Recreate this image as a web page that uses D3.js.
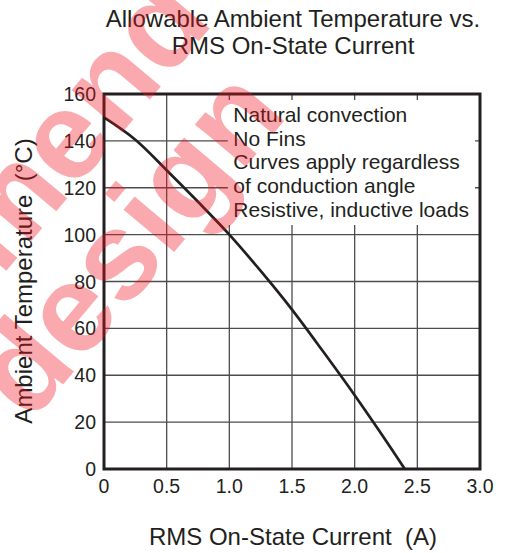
<!DOCTYPE html>
<html>
<head>
<meta charset="utf-8">
<script src="https://cdn.jsdelivr.net/npm/d3@7"></script>
<style>
  body { margin: 0; background: #fff; }
  text { font-family: "Liberation Sans", Arial, sans-serif; fill: #231f20; }
</style>
</head>
<body>
<div id="chart"></div>
<script>
// Data
const current = [0, 0.25, 0.5, 0.75, 1.0, 1.25, 1.5, 1.75, 2.0, 2.2, 2.4];
const temperature = [150, 140.5, 127.5, 114, 100, 84.5, 68, 50, 31.5, 16, 0];
const xTicks = [0, 0.5, 1.0, 1.5, 2.0, 2.5, 3.0];
const xTickLabels = ["0", "0.5", "1.0", "1.5", "2.0", "2.5", "3.0"];
const yTicks = [0, 20, 40, 60, 80, 100, 120, 140, 160];
const notes = ["Natural convection", "No Fins", "Curves apply regardless", "of conduction angle", "Resistive, inductive loads"];
const titleLines = ["Allowable Ambient Temperature vs.", "RMS On-State Current"];
const watermark = ["Not recommend", "for new design"];

const width = 508;
const height = 553;
const margin = { top: 94, right: 28, bottom: 84, left: 104 };

const svg = d3.select("#chart")
  .append("svg")
  .attr("width", width)
  .attr("height", height);

const x = d3.scaleLinear()
  .domain([0, 3])
  .range([margin.left, width - margin.right]);

const y = d3.scaleLinear()
  .domain([0, 160])
  .range([height - margin.bottom, margin.top]);

// Grid
svg.append("g")
  .selectAll("line")
  .data(xTicks)
  .join("line")
  .attr("x1", d => x(d)).attr("x2", d => x(d))
  .attr("y1", y(0)).attr("y2", y(160))
  .attr("stroke", "#4d4d4d")
  .attr("stroke-width", 1.3);

svg.append("g")
  .selectAll("line")
  .data(yTicks)
  .join("line")
  .attr("x1", x(0)).attr("x2", x(3))
  .attr("y1", d => y(d)).attr("y2", d => y(d))
  .attr("stroke", "#4d4d4d")
  .attr("stroke-width", 1.3);

// Notes box hides the grid behind it
svg.append("rect")
  .attr("x", x(1.0) - 1.5)
  .attr("y", y(160) + 6)
  .attr("width", x(3) - x(1.0) - 3.5)
  .attr("height", 125)
  .attr("fill", "#fff");

svg.append("g")
  .selectAll("text")
  .data(notes)
  .join("text")
  .attr("x", x(1.0) + 4)
  .attr("y", (d, i) => 122 + i * 23.7)
  .attr("font-size", 21)
  .text(d => d);

// Curve
const line = d3.line()
  .x(d => x(d[0]))
  .y(d => y(d[1]))
  .curve(d3.curveCatmullRom);

svg.append("path")
  .datum(current.map((c, i) => [c, temperature[i]]))
  .attr("fill", "none")
  .attr("stroke", "#231f20")
  .attr("stroke-width", 2.7)
  .attr("d", line);

// Frame
svg.append("rect")
  .attr("x", x(0)).attr("y", y(160))
  .attr("width", x(3) - x(0))
  .attr("height", y(0) - y(160))
  .attr("fill", "none")
  .attr("stroke", "#231f20")
  .attr("stroke-width", 3);

// Tick labels
svg.append("g")
  .selectAll("text")
  .data(xTicks)
  .join("text")
  .attr("x", d => x(d))
  .attr("y", y(0) + 24)
  .attr("text-anchor", "middle")
  .attr("font-size", 19.5)
  .text((d, i) => xTickLabels[i]);

svg.append("g")
  .selectAll("text")
  .data(yTicks)
  .join("text")
  .attr("x", x(0) - 8)
  .attr("y", d => y(d) + 7)
  .attr("text-anchor", "end")
  .attr("font-size", 19.5)
  .text(d => d);

// Titles
svg.append("text")
  .attr("text-anchor", "middle")
  .attr("font-size", 24)
  .selectAll("tspan")
  .data(titleLines)
  .join("tspan")
  .attr("x", 293)
  .attr("y", (d, i) => 27 + i * 27)
  .text(d => d);

svg.append("text")
  .attr("x", 293)
  .attr("y", 545)
  .attr("text-anchor", "middle")
  .attr("font-size", 24)
  .style("white-space", "pre")
  .text("RMS On-State Current  (A)");

svg.append("text")
  .attr("transform", "translate(32,281) rotate(-90)")
  .attr("text-anchor", "middle")
  .attr("font-size", 24)
  .style("white-space", "pre")
  .text("Ambient Temperature  (°C)");

// Watermark
svg.append("g")
  .attr("transform", "translate(215,22) rotate(-50)")
  .selectAll("text")
  .data(watermark)
  .join("text")
  .attr("x", (d, i) => i * -23.7)
  .attr("y", (d, i) => i * 116.6)
  .attr("text-anchor", "end")
  .attr("font-size", 125)
  .attr("font-weight", "bold")
  .style("fill", "rgba(240, 20, 30, 0.36)")
  .text(d => d);
</script>
</body>
</html>
